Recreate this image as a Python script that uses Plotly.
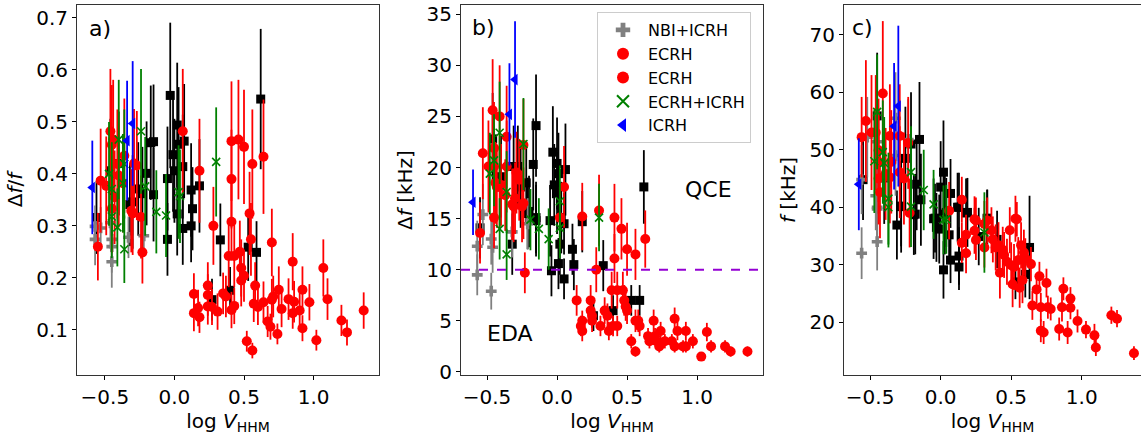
import plotly.graph_objects as go

# ---- data: (logV_HHM, value, error) ----
# Panel a) delta f / f
BLACK_A = [(-0.56,0.316,0.07),(-0.46,0.406,0.10),(-0.40,0.42,0.10),(-0.32,0.341,0.08),(-0.30,0.346,0.09),
           (-0.26,0.371,0.09),(-0.23,0.362,0.09),(-0.20,0.401,0.10),(-0.17,0.46,0.11),(-0.15,0.462,0.11),
           (-0.15,0.36,0.09),(-0.05,0.391,0.10),(-0.03,0.551,0.14),(-0.01,0.437,0.11),(0.00,0.406,0.10),
           (0.02,0.494,0.12),(0.02,0.323,0.08),(0.03,0.457,0.11),(0.06,0.414,0.10),(0.07,0.463,0.11),
           (0.12,0.369,0.09),(0.13,0.333,0.08),(0.18,0.377,0.09),(0.62,0.544,0.135),(-0.05,0.274,0.07),
           (0.06,0.295,0.07),(0.12,0.30,0.07),(0.27,0.158,0.04),(0.33,0.273,0.07),(0.40,0.176,0.045),
           (0.53,0.259,0.065),(0.59,0.249,0.06)]
GRAY_A = [(-0.57,0.299,0.04),(-0.57,0.274,0.05),(-0.53,0.296,0.04),(-0.46,0.306,0.05),(-0.45,0.274,0.05),
          (-0.45,0.231,0.05),(-0.45,0.26,0.05),(-0.33,0.278,0.04),(-0.22,0.281,0.04)]
RED1_A = [(-0.55,0.26,0.065),(-0.53,0.387,0.10),(-0.49,0.377,0.095),(-0.46,0.482,0.12),(-0.45,0.456,0.115),
          (-0.44,0.466,0.115),(-0.45,0.333,0.085),(-0.43,0.355,0.09),(-0.41,0.419,0.105),(-0.40,0.397,0.10),
          (-0.37,0.382,0.095),(-0.36,0.435,0.11),(-0.31,0.329,0.08),(-0.30,0.324,0.08),(-0.29,0.42,0.105),
          (-0.27,0.416,0.105),(-0.24,0.317,0.08),(-0.23,0.249,0.06),(0.06,0.482,0.12),(0.18,0.406,0.10)]
RED2_A = [(0.14,0.169,0.04),(0.14,0.132,0.035),(0.17,0.142,0.035),(0.18,0.124,0.03),(0.24,0.185,0.045),
          (0.24,0.167,0.04),(0.24,0.145,0.035),(0.27,0.144,0.035),(0.28,0.30,0.075),(0.31,0.135,0.035),
          (0.35,0.17,0.04),(0.37,0.164,0.04),(0.39,0.242,0.06),(0.41,0.308,0.075),(0.41,0.138,0.035),
          (0.43,0.242,0.06),(0.43,0.146,0.035),(0.47,0.25,0.06),(0.48,0.219,0.055),(0.48,0.195,0.05),
          (0.50,0.204,0.05),(0.52,0.078,0.02),(0.54,0.324,0.08),(0.55,0.274,0.07),(0.56,0.060,0.015),
          (0.57,0.15,0.035),(0.58,0.185,0.045),(0.60,0.144,0.035),(0.64,0.153,0.04),(0.67,0.116,0.03),
          (0.69,0.106,0.025),(0.70,0.268,0.065),(0.70,0.158,0.04),(0.71,0.164,0.04),(0.74,0.092,0.02),
          (0.75,0.177,0.045),(0.77,0.140,0.035),(0.82,0.159,0.04),(0.85,0.231,0.055),(0.85,0.132,0.03),
          (0.86,0.154,0.04),(0.90,0.137,0.035),(0.92,0.177,0.045),(0.92,0.103,0.025),(0.97,0.153,0.035),
          (1.02,0.08,0.02),(1.07,0.219,0.055),(1.10,0.159,0.04),(1.20,0.118,0.03),(1.24,0.095,0.025),
          (1.36,0.137,0.035),(0.41,0.463,0.115),(0.41,0.39,0.095),(0.46,0.466,0.115),(0.50,0.452,0.11),
          (0.56,0.419,0.105),(0.64,0.433,0.11)]
GREEN_A = [(-0.47,0.40,0.10),(-0.45,0.371,0.09),(-0.40,0.466,0.115),(-0.37,0.382,0.095),(-0.36,0.419,0.105),
           (-0.24,0.482,0.12),(-0.21,0.376,0.095),(-0.13,0.327,0.08),(-0.06,0.32,0.08),(0.03,0.365,0.09),
           (0.04,0.357,0.09),(0.30,0.423,0.105),(-0.41,0.297,0.075),(-0.36,0.255,0.065),(-0.45,0.318,0.08)]
BLUE_A = [(-0.59,0.374,0.09),(-0.34,0.464,0.115),(-0.30,0.497,0.12)]

# Panel b) delta f [kHz]
BLACK_B = [(-0.46,22.8,4.5),(-0.40,19.1,4),(-0.31,20.1,4),(-0.28,20.1,4),(-0.26,18.1,4),(-0.22,18.5,4),
           (-0.20,15.7,3.5),(-0.17,20.3,4.5),(-0.15,24.1,5),(-0.15,15.1,3.5),(-0.03,21.5,4.5),(-0.02,18.3,4),
           (0.00,20.4,4.5),(0.00,17.5,4),(0.01,19.4,4),(0.03,15.1,3.5),(0.06,19.8,4.5),(0.62,18.1,3.6),
           (-0.55,14.1,3),(-0.32,12.5,3),(-0.21,15.5,3.5),(-0.15,14.8,3.5),(-0.05,14.8,3.5),(-0.04,9.9,2.5),
           (0.01,10.6,2.5),(0.02,12.5,3),(0.05,9.1,2),(0.05,14.5,3),(0.11,12.0,2.5),(0.12,10.5,2.5),
           (0.18,14.7,3),(0.33,10.4,2.5),(0.26,5.5,1.5),(0.40,6.0,1.5),(0.53,7.0,1.5),(0.59,7.0,1.5)]
GRAY_B = [(-0.57,12.3,2.5),(-0.57,9.5,2),(-0.53,15.4,3),(-0.47,13.0,2.5),(-0.46,12.2,2.5),(-0.47,7.9,1.8),
          (-0.32,13.7,2.5),(-0.21,14.5,2.5)]
RED1_B = [(-0.53,21.4,4.5),(-0.49,20.1,4.5),(-0.46,25.6,5),(-0.45,21.9,4.5),(-0.45,20.1,4.5),(-0.44,18.5,4),
          (-0.43,18.1,4),(-0.41,25.0,5),(-0.41,18.1,4),(-0.40,18.3,4),(-0.37,17.3,3.5),(-0.36,23.0,5),
          (-0.36,20.1,4.5),(-0.32,16.4,3.5),(-0.30,17.0,3.5),(-0.29,19.5,4),(-0.27,18.8,4),(-0.24,16.5,3.5),
          (-0.24,22.2,4.5),(-0.55,13.6,3),(-0.45,15.1,3),(-0.31,16.2,3.5),(-0.25,16.2,3.5),(-0.23,9.7,2),
          (0.02,15.1,3),(0.05,18.1,4)]
RED2_B = [(0.14,7.0,1.5),(0.17,4.5,1),(0.18,5.0,1),(0.18,4.0,1),(0.24,7.0,1.5),(0.24,6.0,1.3),(0.25,5.5,1.2),
          (0.25,5.0,1.1),(0.28,10.0,2.2),(0.30,15.8,3.5),(0.31,4.5,1),(0.34,6.0,1.3),(0.36,5.5,1.2),
          (0.37,4.0,0.9),(0.39,8.0,1.8),(0.40,4.5,1),(0.41,11.1,2.4),(0.41,15.1,3.3),(0.43,8.0,1.8),
          (0.43,4.5,1),(0.46,14.0,3),(0.47,8.0,1.8),(0.48,7.0,1.5),(0.49,6.4,1.4),(0.50,12.0,2.6),
          (0.50,6.0,1.3),(0.53,3.0,0.7),(0.56,2.0,0.5),(0.56,5.0,1.1),(0.56,11.5,2.5),(0.58,5.0,1.1),
          (0.59,4.5,1),(0.63,13.0,2.8),(0.65,3.5,0.8),(0.66,3.0,0.7),(0.69,5.0,1.1),(0.70,3.5,0.8),
          (0.71,3.0,0.7),(0.73,2.5,0.6),(0.74,4.0,0.9),(0.77,3.0,0.7),(0.82,3.0,0.7),(0.84,5.2,1.1),
          (0.84,2.5,0.6),(0.86,4.0,0.9),(0.90,2.5,0.6),(0.92,4.0,0.9),(0.92,2.5,0.6),(0.97,3.0,0.7),
          (1.03,1.5,0.4),(1.07,3.9,0.9),(1.10,2.5,0.6),(1.20,2.5,0.6),(1.24,2.0,0.5),(1.36,2.0,0.5),
          (0.18,15.2,3.3)]
GREEN_B = [(-0.48,19.4,4),(-0.45,20.7,4.5),(-0.41,23.4,5),(-0.36,17.6,4),(-0.24,22.3,4.5),(-0.41,14.0,3),
           (-0.36,11.5,2.5),(-0.13,14.0,3),(-0.06,13.0,3),(0.02,14.1,3),(0.30,15.1,3.3),(-0.19,14.9,3),
           (0.02,16.7,3.5)]
BLUE_B = [(-0.60,16.6,3.2),(-0.34,25.2,5),(-0.30,28.6,5.7)]

# Panel c) f [kHz]
BLACK_C = [(-0.55,44.8,7),(-0.45,55.9,11),(-0.40,45.1,8),(-0.28,40.1,8),(-0.25,48.5,9),(-0.21,51.0,9),
           (-0.19,38.7,7),(-0.15,51.8,10),(-0.17,44.0,8),(-0.14,41.3,8),(-0.05,38.0,7),(0.00,43.5,8),
           (0.02,46.1,9),(0.03,38.8,7),(0.07,42.4,6),(0.13,40.0,6),(0.18,39.0,6),(0.33,38.0,5),
           (-0.31,36.9,6),(-0.28,40.2,7),(-0.18,38.8,7),(-0.04,38.1,6),(-0.03,36.5,6),(-0.01,36.2,6),
           (0.02,29.1,5),(0.04,39.1,6),(0.06,35.2,5),(0.07,30.8,4),(0.12,40.0,6),(0.13,31.5,5),
           (0.13,29.6,4),(0.19,39.1,6),(0.27,34.9,5),(0.33,38.1,5),(0.40,34.4,5),(0.53,27.0,3),
           (0.60,28.3,4),(0.63,33.0,9)]
GRAY_C = [(-0.56,44.8,6),(-0.52,52.2,7),(-0.45,51.4,8),(-0.46,42.0,6),(-0.45,39.7,6),(-0.32,49.0,7),
          (-0.32,55.5,8),(-0.23,51.8,7),(-0.56,32.0,4.5),(-0.45,34.0,5),(-0.45,40.0,6)]
RED1_C = [(-0.56,52.2,7),(-0.53,55.0,10.6),(-0.49,53.0,10),(-0.46,53.0,10),(-0.44,49.9,9),(-0.44,47.9,9),
          (-0.44,45.0,8),(-0.43,42.6,8),(-0.41,59.8,12.6),(-0.39,45.8,8),(-0.36,45.2,8),(-0.35,47.9,9),
          (-0.36,52.4,9),(-0.29,52.4,9),(-0.29,46.1,8),(-0.26,45.0,8),(-0.23,51.2,8),(-0.22,39.0,6),
          (0.06,39.4,5)]
RED2_C = [(0.15,41.3,4),(0.25,37.7,4),(0.33,37.7,4),(0.53,38.0,4),(0.15,33.8,3.5),(0.18,35.2,3.5),
          (0.18,32.0,3.5),(0.24,37.9,4),(0.24,35.9,4),(0.25,34.3,3.5),(0.31,37.1,4),(0.31,33.0,3.5),
          (0.36,36.0,4),(0.37,34.4,4),(0.39,33.0,4),(0.41,33.4,4),(0.42,28.6,4.5),(0.44,32.6,4),
          (0.45,31.7,4),(0.47,30.5,4),(0.49,36.0,4),(0.50,29.9,4),(0.51,26.6,4),(0.52,29.6,4),
          (0.54,37.9,3),(0.55,30.8,4),(0.56,26.0,3.5),(0.57,33.4,4),(0.58,27.3,4),(0.59,32.1,4),
          (0.60,31.1,3.5),(0.64,30.1,3),(0.65,22.9,2.5),(0.68,25.7,2.5),(0.70,28.0,2.5),(0.71,22.6,2.5),
          (0.71,18.5,2),(0.73,18.2,2),(0.75,26.8,2.5),(0.76,22.6,2),(0.78,22.3,2),(0.84,18.8,2),
          (0.86,22.6,2.5),(0.87,25.8,2),(0.90,18.2,2),(0.92,24.1,2),(0.92,22.5,2),(0.97,20.2,2),
          (1.03,18.7,1.5),(1.09,17.7,2),(1.10,15.6,1.5),(1.21,21.2,1.5),(1.25,20.6,1.5),(1.37,14.6,1.2)]
GREEN_C = [(-0.47,48.0,9),(-0.45,56.6,10),(-0.41,49.6,9),(-0.40,47.7,8),(-0.37,41.5,8),(-0.37,40.0,7),
           (-0.21,46.1,8),(-0.21,40.1,7),(-0.12,43.0,7),(-0.05,40.5,6),(0.02,37.8,6),(0.04,37.9,6),
           (0.31,35.6,7)]
BLUE_C = [(-0.58,44.0,8),(-0.33,54.1,11),(-0.30,57.6,14)]

SERIES_NAMES = ["NBI+ICRH", "ECRH", "ECRH", "ECRH+ICRH", "ICRH"]
X_TICKS = [-0.5, 0.0, 0.5, 1.0]
Y_TICKS_A = [0.1, 0.2, 0.3, 0.4, 0.5, 0.6, 0.7]
Y_TICKS_B = [0, 5, 10, 15, 20, 25, 30, 35]
Y_TICKS_C = [20, 30, 40, 50, 60, 70]
THRESHOLD_B = 10

# ---- styles ----
styles = {
    "black": dict(color="black", symbol="square", size=9, line=None),
    "gray": dict(color="gray", symbol="cross", size=9, line=None),
    "red": dict(color="red", symbol="circle", size=10, line=None),
    "green": dict(color="green", symbol="x-thin", size=8, line=dict(color="green", width=1.6)),
    "blue": dict(color="blue", symbol="triangle-left", size=10, line=None),
}

panels = [
    ("x", "y", dict(black=BLACK_A, gray=GRAY_A, red1=RED1_A, red2=RED2_A, green=GREEN_A, blue=BLUE_A)),
    ("x2", "y2", dict(black=BLACK_B, gray=GRAY_B, red1=RED1_B, red2=RED2_B, green=GREEN_B, blue=BLUE_B)),
    ("x3", "y3", dict(black=BLACK_C, gray=GRAY_C, red1=RED1_C, red2=RED2_C, green=GREEN_C, blue=BLUE_C)),
]

fig = go.Figure()
order = [("black", "black", None), ("gray", "gray", SERIES_NAMES[0]), ("red1", "red", SERIES_NAMES[1]),
         ("red2", "red", SERIES_NAMES[2]), ("green", "green", SERIES_NAMES[3]), ("blue", "blue", SERIES_NAMES[4])]

for key, sty, name in order:
    for pi, (xa, ya, data) in enumerate(panels):
        pts = data[key]
        xs, ys, es = zip(*pts)
        st = styles[sty]
        marker = dict(color=st["color"], symbol=st["symbol"], size=st["size"])
        marker["line"] = st["line"] if st["line"] is not None else dict(width=0)
        fig.add_trace(go.Scatter(
            x=list(xs), y=list(ys), mode="markers", xaxis=xa, yaxis=ya,
            marker=marker,
            error_y=dict(type="data", array=list(es), visible=True, color=st["color"], thickness=1.8, width=0),
            name=name if name else "",
            showlegend=(name is not None and pi == 1),
        ))

H = 436.0
W = 1141.0
ydom = [1 - 375 / H, 1 - 5 / H]
tickfont = dict(family="DejaVu Sans", size=20, color="black")
titlefont = dict(family="DejaVu Sans", size=20, color="black")
axcommon = dict(showgrid=False, zeroline=False, ticks="outside", ticklen=4, tickwidth=1, tickcolor="black",
                linecolor="#333", linewidth=1, tickfont=tickfont, automargin=False,
                ticklabeloverflow="allow")

xtitle = "log <i>V</i><sub>HHM</sub>"
fig.update_layout(
    template="none",
    width=1141, height=436, margin=dict(l=0, r=0, t=0, b=0, pad=0),
    plot_bgcolor="white", paper_bgcolor="white",
    font=dict(family="DejaVu Sans", color="black"),
    xaxis=dict(domain=[77 / W, 379 / W], range=[-0.70, 1.47], tickvals=X_TICKS, tickformat=".1f",
               showline=True, mirror=True, anchor="y", title=dict(text=xtitle, font=titlefont, standoff=4), **axcommon),
    yaxis=dict(domain=ydom, range=[0.013, 0.725], tickvals=Y_TICKS_A, tickformat=".1f",
               showline=True, mirror=True, anchor="x",
               title=dict(text="Δ<i>f</i>/<i>f</i>", font=titlefont, standoff=8), **axcommon),
    xaxis2=dict(domain=[461 / W, 763 / W], range=[-0.686, 1.471], tickvals=X_TICKS, tickformat=".1f",
                showline=True, mirror=True, anchor="y2", title=dict(text=xtitle, font=titlefont, standoff=4), **axcommon),
    yaxis2=dict(domain=ydom, range=[-0.3, 35.9], tickvals=Y_TICKS_B,
                showline=True, mirror=True, anchor="x2",
                title=dict(text="Δ<i>f</i> [kHz]", font=titlefont, standoff=8), **axcommon),
    xaxis3=dict(domain=[844 / W, 1.0], range=[-0.685, 1.42], tickvals=X_TICKS, tickformat=".1f",
                showline=True, mirror=True, anchor="y3", title=dict(text=xtitle, font=titlefont, standoff=4), **axcommon),
    yaxis3=dict(domain=ydom, range=[10.8, 75.2], tickvals=Y_TICKS_C,
                showline=True, mirror=False, anchor="x3",
                title=dict(text="<i>f</i> [kHz]", font=titlefont, standoff=8), **axcommon),
    legend=dict(x=597 / W, y=1 - 12 / H, xanchor="left", yanchor="top", bgcolor="white",
                bordercolor="#cccccc", borderwidth=1, font=dict(family="DejaVu Sans", size=16, color="black"),
                tracegroupgap=0, itemsizing="constant", itemwidth=40),
    shapes=[dict(type="line", xref="x2 domain", yref="y2", x0=0, x1=1, y0=THRESHOLD_B, y1=THRESHOLD_B,
                 line=dict(color="darkviolet", width=2, dash="dash"), layer="above")],
)

ann_font = dict(family="DejaVu Sans", size=22, color="black")
for txt, px, py in [("a)", 100, 28), ("b)", 483, 27), ("c)", 862, 27), ("QCE", 708, 190), ("EDA", 510, 333)]:
    fig.add_annotation(text=txt, x=px / W, y=1 - py / H, xref="paper", yref="paper", showarrow=False,
                       xanchor="center", yanchor="middle", font=ann_font)

fig.write_html("out.html")
